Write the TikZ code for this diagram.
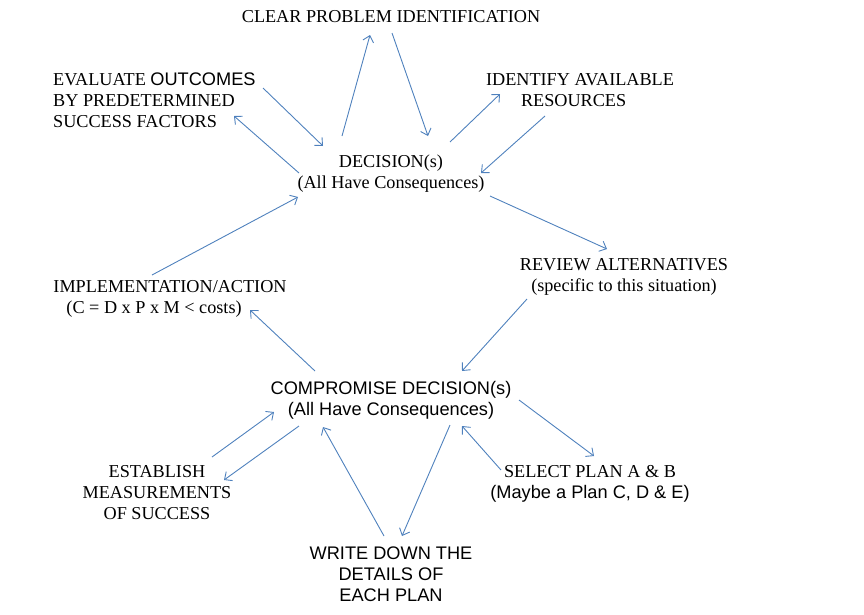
\documentclass[tikz,border=0pt]{standalone}
\usepackage{fontspec}
\setmainfont{Liberation Serif}
\newfontfamily\arialf{Liberation Sans}
\usetikzlibrary{arrows.meta}
\definecolor{arrblue}{RGB}{79,129,189}
\tikzset{
  lbl/.style={inner sep=0pt, align=center, font=\fontsize{18.2}{21}\selectfont},
  lbll/.style={inner sep=0pt, align=left, font=\fontsize{18.2}{21}\selectfont},
  arr/.style={draw=arrblue, line width=0.9pt, -{Straight Barb[length=6pt,width=11pt,line width=0.9pt]}}
}
\begin{document}
\begin{tikzpicture}[x=1pt,y=-1pt]
\useasboundingbox (0,0) rectangle (864,614);
\node[lbl] (clear) at (391,17) {CLEAR PROBLEM IDENTIFICATION};
\node[lbll, anchor=west] (eval) at (53,100) {EVALUATE {\arialf OUTCOMES}\\BY PREDETERMINED\\SUCCESS FACTORS};
\node[lbll] (ident) at (580,90) {IDENTIFY AVAILABLE\\\hspace*{35pt}RESOURCES};
\node[lbl] (dec) at (391,174) {DECISION(s)\\(All Have Consequences)};
\node[lbl] (review) at (624,277) {REVIEW ALTERNATIVES\\(specific to this situation)};
\node[lbll] (impl) at (170,299) {IMPLEMENTATION/ACTION\\\hspace*{13pt}(C = D x P x M {\textless} costs)};
\node[lbl, font=\arialf\fontsize{18.2}{21}\selectfont] (comp) at (391,400) {COMPROMISE DECISION(s)\\(All Have Consequences)};
\node[lbl] (estab) at (157,493) {ESTABLISH\\MEASUREMENTS\\OF SUCCESS};
\node[lbl] (select) at (590,484) {SELECT PLAN A \& B\\{\arialf (Maybe a Plan C, D \& E)}};
\node[lbl, font=\arialf\fontsize{18.2}{21}\selectfont] (write) at (391,574) {WRITE DOWN THE\\DETAILS OF\\EACH PLAN};

\draw[arr] ([shift={(-49,-38)}]dec.center) -- ([shift={(-21,18)}]clear.center);
\draw[arr] ([shift={(1,16)}]clear.center) -- ([shift={(37,-38)}]dec.center);
\draw[arr] ([shift={(59,-32)}]dec.center) -- ([shift={(-80,4)}]ident.center);
\draw[arr] ([shift={(-35,26)}]ident.center) -- ([shift={(90,-1)}]dec.center);
\draw[arr] ([shift={(210,-12)}]eval.west) -- ([shift={(-68,-28)}]dec.center);
\draw[arr] ([shift={(-92,-1)}]dec.center) -- ([shift={(181,16)}]eval.west);
\draw[arr] ([shift={(-18,-24)}]impl.center) -- ([shift={(-93,23)}]dec.center);
\draw[arr] ([shift={(99,22)}]dec.center) -- ([shift={(-17,-28)}]review.center);
\draw[arr] ([shift={(-97,22)}]review.center) -- ([shift={(71,-29)}]comp.center);
\draw[arr] ([shift={(-76,-29)}]comp.center) -- ([shift={(80,11)}]impl.center);
\draw[arr] ([shift={(128,0)}]comp.center) -- ([shift={(4,-28)}]select.center);
\draw[arr] ([shift={(-89,-14)}]select.center) -- ([shift={(71,26)}]comp.center);
\draw[arr] ([shift={(59,25)}]comp.center) -- ([shift={(11,-38)}]write.center);
\draw[arr] ([shift={(-7,-38)}]write.center) -- ([shift={(-68,27)}]comp.center);
\draw[arr] ([shift={(55,-36)}]estab.center) -- ([shift={(-117,12)}]comp.center);
\draw[arr] ([shift={(-92,26)}]comp.center) -- ([shift={(67,-13)}]estab.center);
\end{tikzpicture}
\end{document}
